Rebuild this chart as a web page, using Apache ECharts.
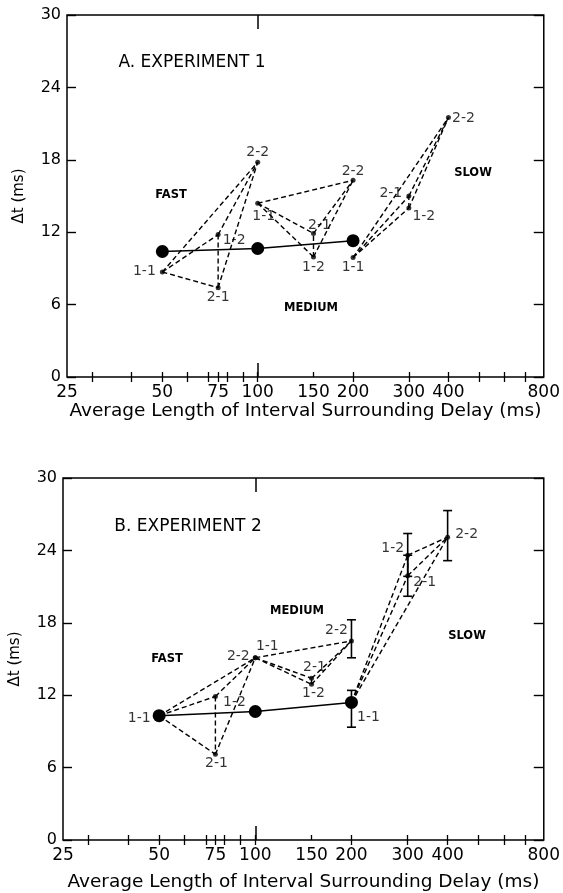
<!DOCTYPE html>
<html><head><meta charset="utf-8">
<script src="https://cdn.jsdelivr.net/npm/echarts@6/dist/echarts.min.js"></script>
<style>html,body{margin:0;padding:0;background:#fff}#c{width:563px;height:893px}</style>
</head><body><div id="c"></div>
<script>
// ---------- data ----------
const xBottomTicks = [30,40,50,60,70,75,80,90,100,150,200,300,400,500,600,700];
const xTopTicks = [30,40,50,60,70,75,80,90,100,200,300,400,500,600,700];
const xMajorTick = [100];
const xTickLabels = [25,50,75,100,150,200,300,400,800];
const yMin = 0, yMax = 30, yStep = 6;
const conditionNames = ['1-1','1-2','2-1','2-2'];
const groupNames = ['FAST','MEDIUM','SLOW'];

// Experiment 1 (points in order 1-1, 1-2, 2-1, 2-2 ; [avg interval ms, delta t ms])
const exp1Mean   = [[50,10.4],[100,10.65],[200,11.3]];
const exp1Fast   = [[50,8.7],[75,11.8],[75,7.4],[100,17.8]];
const exp1Medium = [[100,14.4],[150,9.95],[150,11.9],[200,16.3]];
const exp1Slow   = [[200,9.9],[300,14.0],[300,15.0],[400,21.5]];

// Experiment 2
const exp2Mean   = [[50,10.3],[100,10.65],[200,11.4]];
const exp2Fast   = [[50,10.3],[75,11.9],[75,7.1],[100,15.1]];
const exp2Medium = [[100,15.1],[150,12.9],[150,13.4],[200,16.5]];
const exp2Slow   = [[200,11.4],[300,23.6],[300,21.9],[400,25.1]];
// error bars [x, low, high]
const exp2ErrorBars = [[200,15.1,18.25],[200,9.35,12.4],[300,21.85,25.4],[300,20.2,23.6],[400,23.15,27.3]];

// ---------- styles (label offsets relative to point, px) ----------
const exp1LabelOffsets = [
  [[-18,-1],[16,6],[0,10],[0,-10]],
  [[6,13],[0,10],[6,-8],[0,-9]],
  [[0,10],[15,8],[-18,-3],[15,1]]
];
const exp2LabelOffsets = [
  [[-20,3],[19,6],[1,9],[-17,-1]],
  [[12,-11],[2,9],[3,-11],[-15,-11]],
  [[17,15],[-15,-7],[17,7],[19,-3]]
];
const FONT = 'DejaVu Sans';
const PT_SIZE = 5;
const edges = [[0,1],[0,2],[0,3],[1,2],[1,3],[2,3]];

function xAxesFor(gridIndex, nameGap) {
  const base = {gridIndex, type:'log', logBase:2, min:25, max:800, splitLine:{show:false}, axisLine:{show:false}};
  return [
    Object.assign({}, base, {position:'bottom',
      axisTick:{show:true, inside:true, length:5, customValues:xBottomTicks, lineStyle:{color:'#000', width:1.3}},
      axisLabel:{show:true, customValues:xTickLabels, color:'#000', fontFamily:FONT, fontSize:17, margin:7, hideOverlap:false,
                 formatter: v => String(Math.round(v))},
      name:'Average Length of Interval Surrounding Delay (ms)', nameLocation:'middle', nameGap:nameGap,
      nameTextStyle:{color:'#000', fontFamily:FONT, fontSize:18.5}}),
    Object.assign({}, base, {position:'top',
      axisTick:{show:true, inside:true, length:5, customValues:xTopTicks, lineStyle:{color:'#000', width:1.3}},
      axisLabel:{show:false}}),
    Object.assign({}, base, {position:'bottom',
      axisTick:{show:true, inside:true, length:14, customValues:xMajorTick, lineStyle:{color:'#000', width:1.5}},
      axisLabel:{show:false}}),
    Object.assign({}, base, {position:'top',
      axisTick:{show:true, inside:true, length:14, customValues:xMajorTick, lineStyle:{color:'#000', width:1.5}},
      axisLabel:{show:false}})
  ];
}
function yAxesFor(gridIndex) {
  const base = {gridIndex, type:'value', min:yMin, max:yMax, interval:yStep, splitLine:{show:false}, axisLine:{show:false}};
  return [
    Object.assign({}, base, {position:'left',
      axisTick:{show:true, inside:true, length:9, lineStyle:{color:'#000', width:1.4}},
      axisLabel:{color:'#000', fontFamily:FONT, fontSize:16, margin:6},
      name:'\u0394t (ms)', nameLocation:'middle', nameGap:40, nameRotate:90,
      nameTextStyle:{color:'#000', fontFamily:FONT, fontSize:15}}),
    Object.assign({}, base, {position:'right',
      axisTick:{show:true, inside:true, length:10, lineStyle:{color:'#000', width:1.4}},
      axisLabel:{show:false}})
  ];
}

function panelSeries(mean, groups, offsets, xi, yi, errorBars) {
  const s = [];
  groups.forEach(g => {
    edges.forEach(([a,b]) => {
      s.push({type:'line', xAxisIndex:xi, yAxisIndex:yi, data:[g[a], g[b]], symbol:'none', silent:true,
        lineStyle:{color:'#000', width:1.4, type:[5,3]}, z:2, animation:false});
    });
  });
  s.push({type:'line', xAxisIndex:xi, yAxisIndex:yi, data:mean, symbol:'circle', symbolSize:13,
    itemStyle:{color:'#000'}, lineStyle:{color:'#000', width:1.5}, z:4, animation:false});
  const pts = [];
  groups.forEach((g, gi) => g.forEach((p, i) => {
    const o = offsets[gi][i];
    pts.push({value:p, name:conditionNames[i],
      label:{show:true, position:[PT_SIZE/2 + o[0], PT_SIZE/2 + o[1]], align:'center', verticalAlign:'middle',
             formatter:'{b}', color:'#000', fontFamily:FONT, fontSize:14}});
  }));
  s.push({type:'scatter', xAxisIndex:xi, yAxisIndex:yi, data:pts, symbol:'circle', symbolSize:PT_SIZE,
    itemStyle:{color:'#000'}, z:5, animation:false, labelLayout:{hideOverlap:false}});
  if (errorBars) {
    s.push({type:'custom', xAxisIndex:xi, yAxisIndex:yi, data:errorBars, encode:{x:0, y:[1,2]}, z:6, animation:false,
      renderItem(params, api) {
        const x = api.value(0), lo = api.coord([x, api.value(1)]), hi = api.coord([x, api.value(2)]);
        const w = 4.5, st = {stroke:'#000', lineWidth:1.6};
        return {type:'group', children:[
          {type:'line', shape:{x1:lo[0], y1:lo[1], x2:hi[0], y2:hi[1]}, style:st},
          {type:'line', shape:{x1:lo[0]-w, y1:lo[1], x2:lo[0]+w, y2:lo[1]}, style:st},
          {type:'line', shape:{x1:hi[0]-w, y1:hi[1], x2:hi[0]+w, y2:hi[1]}, style:st}
        ]};
      }});
  }
  return s;
}

function txt(x, y, t, size, bold) {
  return {type:'text', x, y, style:{text:t, fill:'#000', font:(bold?'bold ':'')+size+'px "'+FONT+'"', textAlign:'center', textVerticalAlign:'middle'}};
}

const chart = echarts.init(document.getElementById('c'), null, {renderer:'canvas', width:563, height:893});
chart.setOption({
  animation:false,
  backgroundColor:'#fff',
  grid:[
    {left:67, top:15, width:482, height:362, show:true, borderColor:'#000', borderWidth:1.5},
    {left:62, top:478, width:483, height:363, show:true, borderColor:'#000', borderWidth:1.5}
  ],
  xAxis: xAxesFor(0, 25).concat(xAxesFor(1, 33)),
  yAxis: yAxesFor(0).concat(yAxesFor(1)),
  series: panelSeries(exp1Mean, [exp1Fast, exp1Medium, exp1Slow], exp1LabelOffsets, 0, 0, null)
    .concat(panelSeries(exp2Mean, [exp2Fast, exp2Medium, exp2Slow], exp2LabelOffsets, 4, 2, exp2ErrorBars)),
  graphic:[
    txt(192, 63, 'A. EXPERIMENT 1', 17, false),
    txt(171, 195, groupNames[0], 11.5, true),
    txt(311, 308, groupNames[1], 11.5, true),
    txt(473, 173, groupNames[2], 11.5, true),
    txt(188, 527, 'B. EXPERIMENT 2', 17, false),
    txt(167, 659, groupNames[0], 11.5, true),
    txt(297, 611, groupNames[1], 11.5, true),
    txt(467, 636, groupNames[2], 11.5, true)
  ]
});
</script></body></html>
